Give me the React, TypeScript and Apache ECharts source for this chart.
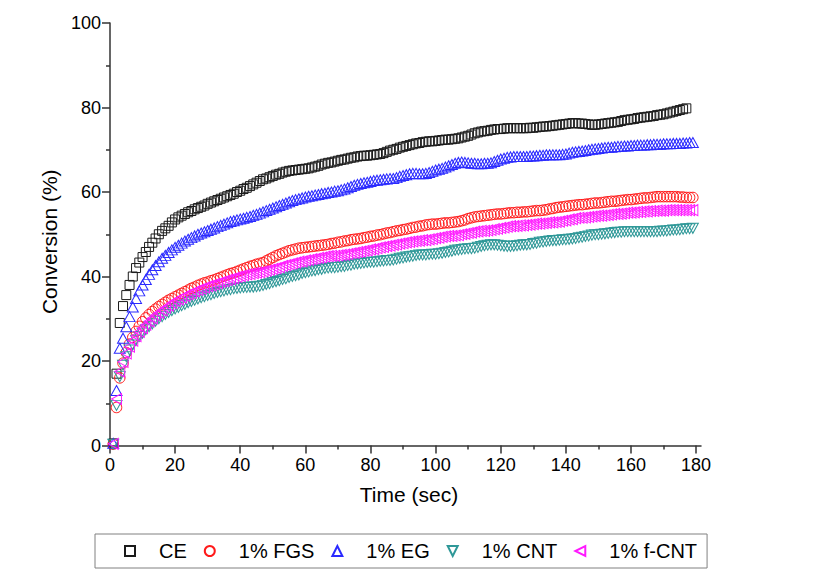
import React, { useEffect, useRef } from "react";
import * as echarts from "echarts";

// Time step: 1 s, first sample at t = 1 s
const START_TIME = 1;

const seriesNames = ["CE", "1% FGS", "1% EG", "1% CNT", "1% f-CNT"];

const ceValues = [
  0.5, 17.0, 29.0, 33.0, 35.6, 38.0, 40.0, 42.0, 43.3, 44.6,
  45.8, 47.0, 48.0, 49.0, 50.0, 50.8, 51.4, 52.0, 52.8, 53.5,
  54.0, 54.4, 54.8, 55.2, 55.5, 55.9, 56.2, 56.5, 56.8, 57.2,
  57.5, 57.8, 58.1, 58.4, 58.7, 59.0, 59.3, 59.6, 60.0, 60.3,
  60.7, 61.0, 61.4, 61.8, 62.2, 62.6, 63.0, 63.2, 63.5, 63.8,
  64.1, 64.3, 64.6, 64.8, 65.0, 65.1, 65.2, 65.3, 65.4, 65.5,
  65.6, 65.8, 66.0, 66.2, 66.5, 66.7, 66.9, 67.0, 67.2, 67.4,
  67.6, 67.7, 67.9, 68.1, 68.2, 68.4, 68.5, 68.6, 68.6, 68.7,
  68.8, 68.9, 69.0, 69.2, 69.5, 69.8, 70.0, 70.2, 70.5, 70.7,
  70.9, 71.1, 71.3, 71.5, 71.6, 71.8, 71.9, 72.0, 72.0, 72.1,
  72.2, 72.3, 72.4, 72.4, 72.5, 72.6, 72.7, 72.9, 73.1, 73.3,
  73.6, 73.9, 74.1, 74.3, 74.4, 74.5, 74.7, 74.8, 74.9, 74.9,
  75.0, 75.1, 75.1, 75.1, 75.1, 75.1, 75.1, 75.1, 75.2, 75.2,
  75.3, 75.4, 75.5, 75.5, 75.6, 75.7, 75.8, 75.9, 76.0, 76.1,
  76.2, 76.3, 76.3, 76.2, 76.2, 76.1, 76.0, 75.9, 75.9, 76.0,
  76.1, 76.2, 76.3, 76.4, 76.5, 76.6, 76.8, 77.0, 77.1, 77.2,
  77.3, 77.5, 77.6, 77.7, 77.8, 77.9, 78.0, 78.2, 78.3, 78.4,
  78.6, 78.8, 79.0, 79.2, 79.4, 79.6, 79.8,
];

const fgsValues = [
  0.3, 9.0, 16.0, 19.5, 22.0, 24.0, 25.6, 27.0, 28.2, 29.3,
  30.2, 31.0, 31.7, 32.3, 32.9, 33.4, 33.9, 34.4, 34.8, 35.2,
  35.6, 36.0, 36.4, 36.8, 37.2, 37.5, 37.9, 38.2, 38.5, 38.7,
  39.0, 39.2, 39.5, 39.8, 40.1, 40.4, 40.7, 40.9, 41.2, 41.5,
  41.8, 42.1, 42.4, 42.6, 42.9, 43.1, 43.3, 43.7, 44.1, 44.5,
  44.9, 45.2, 45.5, 45.8, 46.1, 46.3, 46.5, 46.7, 46.8, 46.9,
  47.0, 47.1, 47.2, 47.3, 47.4, 47.5, 47.6, 47.8, 47.9, 48.1,
  48.2, 48.4, 48.5, 48.7, 48.8, 48.9, 49.0, 49.2, 49.3, 49.5,
  49.6, 49.8, 49.9, 50.1, 50.3, 50.4, 50.6, 50.8, 50.9, 51.1,
  51.2, 51.4, 51.6, 51.7, 51.9, 52.0, 52.2, 52.3, 52.4, 52.4,
  52.5, 52.6, 52.7, 52.7, 52.8, 52.9, 53.0, 53.2, 53.4, 53.7,
  53.9, 54.1, 54.2, 54.3, 54.4, 54.5, 54.6, 54.7, 54.8, 54.8,
  54.9, 55.0, 55.1, 55.1, 55.2, 55.2, 55.3, 55.3, 55.4, 55.5,
  55.6, 55.6, 55.7, 55.8, 56.0, 56.1, 56.3, 56.4, 56.5, 56.6,
  56.7, 56.8, 56.9, 57.0, 57.0, 57.1, 57.2, 57.3, 57.4, 57.4,
  57.5, 57.6, 57.7, 57.8, 57.8, 57.9, 58.0, 58.1, 58.2, 58.2,
  58.3, 58.4, 58.5, 58.6, 58.6, 58.7, 58.8, 58.9, 58.9, 58.9,
  58.9, 58.9, 58.9, 58.9, 58.8, 58.8, 58.7, 58.7, 58.7,
];

const egValues = [
  0.5, 13.0, 23.0, 25.4, 28.1, 30.5, 32.8, 34.8, 36.6, 38.0,
  39.3, 40.5, 41.6, 42.6, 43.5, 44.3, 45.0, 45.7, 46.3, 46.9,
  47.4, 47.9, 48.4, 48.8, 49.2, 49.6, 50.0, 50.3, 50.6, 50.9,
  51.2, 51.5, 51.8, 52.1, 52.4, 52.7, 53.0, 53.2, 53.4, 53.6,
  53.8, 54.0, 54.2, 54.5, 54.7, 55.0, 55.3, 55.6, 55.9, 56.2,
  56.5, 56.8, 57.1, 57.4, 57.7, 58.0, 58.2, 58.4, 58.6, 58.8,
  59.0, 59.1, 59.3, 59.4, 59.6, 59.7, 59.9, 60.0, 60.2, 60.3,
  60.5, 60.7, 61.0, 61.3, 61.6, 61.8, 62.0, 62.2, 62.3, 62.5,
  62.7, 62.8, 62.9, 63.0, 63.1, 63.2, 63.2, 63.4, 63.7, 63.9,
  64.1, 64.3, 64.4, 64.4, 64.3, 64.3, 64.4, 64.6, 64.9, 65.2,
  65.4, 65.6, 65.9, 66.2, 66.5, 66.8, 67.0, 67.1, 67.0, 66.9,
  66.8, 66.8, 66.7, 66.7, 66.8, 66.8, 66.9, 67.2, 67.5, 67.8,
  68.0, 68.2, 68.3, 68.4, 68.4, 68.4, 68.4, 68.4, 68.5, 68.5,
  68.6, 68.7, 68.7, 68.8, 68.8, 68.8, 68.8, 68.8, 68.9, 69.0,
  69.2, 69.4, 69.5, 69.6, 69.7, 69.8, 70.0, 70.1, 70.2, 70.3,
  70.4, 70.5, 70.6, 70.6, 70.7, 70.8, 70.8, 70.9, 70.9, 71.0,
  71.0, 71.1, 71.1, 71.1, 71.2, 71.2, 71.3, 71.3, 71.3, 71.4,
  71.4, 71.4, 71.5, 71.5, 71.5, 71.6, 71.6, 71.7, 71.7,
];

const cntValues = [
  0.3, 9.5, 16.3, 19.0, 21.0, 22.6, 23.8, 24.9, 25.8, 26.6,
  27.4, 28.1, 28.8, 29.4, 30.0, 30.5, 31.0, 31.5, 31.9, 32.3,
  32.7, 33.1, 33.4, 33.8, 34.1, 34.4, 34.7, 35.0, 35.2, 35.5,
  35.7, 36.0, 36.2, 36.4, 36.6, 36.8, 36.9, 37.1, 37.2, 37.3,
  37.4, 37.4, 37.5, 37.5, 37.6, 37.7, 37.9, 38.1, 38.3, 38.6,
  38.8, 39.0, 39.3, 39.5, 39.8, 40.0, 40.2, 40.4, 40.7, 40.9,
  41.1, 41.3, 41.4, 41.6, 41.7, 41.9, 42.0, 42.1, 42.1, 42.2,
  42.3, 42.4, 42.6, 42.7, 42.9, 43.0, 43.1, 43.2, 43.3, 43.4,
  43.4, 43.5, 43.6, 43.7, 43.8, 43.8, 43.9, 44.1, 44.3, 44.4,
  44.6, 44.7, 44.8, 45.0, 45.1, 45.1, 45.1, 45.2, 45.3, 45.3,
  45.4, 45.5, 45.7, 45.8, 46.0, 46.2, 46.3, 46.4, 46.5, 46.6,
  46.6, 46.7, 46.9, 47.1, 47.3, 47.4, 47.5, 47.5, 47.4, 47.3,
  47.2, 47.1, 47.1, 47.2, 47.3, 47.4, 47.5, 47.5, 47.6, 47.8,
  47.9, 48.1, 48.2, 48.3, 48.4, 48.5, 48.5, 48.6, 48.7, 48.7,
  48.8, 48.9, 49.0, 49.2, 49.3, 49.5, 49.6, 49.8, 49.9, 49.9,
  50.0, 50.1, 50.2, 50.3, 50.4, 50.5, 50.5, 50.6, 50.6, 50.6,
  50.6, 50.6, 50.6, 50.6, 50.6, 50.6, 50.6, 50.6, 50.7, 50.8,
  50.8, 50.9, 51.0, 51.0, 51.1, 51.2, 51.3, 51.3, 51.4,
];

const fcntValues = [
  0.4, 11.0, 17.5, 19.8, 21.8, 23.4, 24.8, 25.9, 26.9, 27.8,
  28.6, 29.4, 30.1, 30.8, 31.4, 32.0, 32.6, 33.1, 33.7, 34.2,
  34.6, 35.0, 35.4, 35.8, 36.1, 36.5, 36.8, 37.1, 37.4, 37.7,
  37.9, 38.2, 38.4, 38.7, 38.9, 39.2, 39.4, 39.6, 39.9, 40.1,
  40.3, 40.5, 40.6, 40.8, 40.9, 41.0, 41.2, 41.4, 41.6, 41.8,
  42.0, 42.2, 42.5, 42.7, 42.9, 43.1, 43.3, 43.5, 43.6, 43.8,
  43.9, 44.1, 44.2, 44.4, 44.5, 44.7, 44.8, 44.9, 44.9, 45.0,
  45.1, 45.2, 45.3, 45.5, 45.6, 45.8, 45.9, 46.1, 46.2, 46.4,
  46.5, 46.7, 46.9, 47.0, 47.2, 47.3, 47.5, 47.6, 47.8, 47.9,
  48.1, 48.2, 48.3, 48.4, 48.5, 48.6, 48.6, 48.8, 48.9, 49.1,
  49.2, 49.4, 49.5, 49.6, 49.6, 49.7, 49.8, 50.0, 50.1, 50.3,
  50.4, 50.6, 50.7, 50.8, 50.8, 50.9, 51.0, 51.2, 51.3, 51.5,
  51.6, 51.8, 51.9, 51.9, 52.0, 52.1, 52.1, 52.2, 52.3, 52.4,
  52.5, 52.5, 52.6, 52.7, 52.8, 52.8, 52.9, 53.0, 53.2, 53.3,
  53.5, 53.6, 53.8, 53.9, 53.9, 54.0, 54.1, 54.2, 54.3, 54.4,
  54.4, 54.5, 54.6, 54.7, 54.8, 54.8, 54.9, 55.0, 55.1, 55.1,
  55.2, 55.3, 55.3, 55.4, 55.4, 55.5, 55.5, 55.6, 55.6, 55.6,
  55.7, 55.7, 55.7, 55.7, 55.7, 55.7, 55.7, 55.7, 55.7,
];

const xMajorTicks = [0, 20, 40, 60, 80, 100, 120, 140, 160, 180];
const xMinorTicks = [10, 30, 50, 70, 90, 110, 130, 150, 170];

const FONT = "'Liberation Sans', Arial, Helvetica, sans-serif";

const toPairs = (vals: number[]) => vals.map((v, i) => [START_TIME + i, v]);

const styles = [
  { symbol: "rect", size: 9, color: "#1a1a1a" },
  { symbol: "circle", size: 10.5, color: "#ff1a1a" },
  { symbol: "path://M5,0L10,10L0,10Z", size: [11, 10], color: "#2a2aff" },
  { symbol: "path://M0,0L10,0L5,10Z", size: [11, 10], color: "#2f9898" },
  { symbol: "path://M10,0L10,10L0,5Z", size: [10, 11], color: "#ff1aff" },
];

export default function App() {
  const ref = useRef<HTMLDivElement>(null);
  useEffect(() => {
    if (!ref.current) return;
    const chart = echarts.init(ref.current, undefined, { renderer: "svg" });
    const allValues = [ceValues, fgsValues, egValues, cntValues, fcntValues];
    const axisLineStyle = { color: "#333", width: 1.5 };
    const option: any = {
      animation: false,
      backgroundColor: "#fff",
      grid: { left: 110, right: 119, top: 23, bottom: 136.5, containLabel: false },
      xAxis: [
        {
          type: "value",
          min: 0,
          max: 181.5,
          name: "Time (sec)",
          nameLocation: "middle",
          nameGap: 38,
          nameTextStyle: { fontFamily: FONT, fontSize: 21, color: "#000", padding: [0, 0, 0, 7] },
          axisLine: { show: true, lineStyle: axisLineStyle },
          axisTick: { show: true, length: 8, inside: false, customValues: xMajorTicks, lineStyle: axisLineStyle },
          axisLabel: { customValues: xMajorTicks, fontFamily: FONT, fontSize: 18, color: "#000", margin: 10 },
          splitLine: { show: false },
        },
        {
          type: "value",
          min: 0,
          max: 181.5,
          position: "bottom",
          axisLine: { show: false },
          axisTick: { show: true, length: 4, customValues: xMinorTicks, lineStyle: axisLineStyle },
          axisLabel: { show: false },
          splitLine: { show: false },
        },
      ],
      yAxis: {
        type: "value",
        min: 0,
        max: 100,
        interval: 20,
        name: "Conversion (%)",
        nameLocation: "middle",
        nameGap: 50,
        nameTextStyle: { fontFamily: FONT, fontSize: 21, color: "#000", padding: [0, 15, 0, 0] },
        axisLine: { show: true, lineStyle: axisLineStyle },
        axisTick: { show: true, length: 8, lineStyle: axisLineStyle },
        minorTick: { show: true, splitNumber: 2, length: 4, lineStyle: axisLineStyle },
        axisLabel: { fontFamily: FONT, fontSize: 18, color: "#000", margin: 9 },
        splitLine: { show: false },
        minorSplitLine: { show: false },
      },
      legend: {
        left: 95,
        top: 534,
        orient: "horizontal",
        padding: [7, 10, 7, 29],
        itemGap: 17,
        itemWidth: 10,
        itemHeight: 10,
        borderColor: "#808080",
        borderWidth: 1,
        data: seriesNames,
        formatter: (name: string) => `{t|${name}}`,
        textStyle: {
          fontFamily: FONT,
          fontSize: 20,
          color: "#000",
          rich: { t: { fontFamily: FONT, fontSize: 20, color: "#000", padding: [0, 0, 0, 19] } },
        },
      },
      series: seriesNames.map((name, i) => ({
        name,
        type: "scatter",
        data: toPairs(allValues[i]),
        symbol: styles[i].symbol,
        symbolSize: styles[i].size,
        clip: false,
        itemStyle: {
          color: "rgba(0,0,0,0)",
          borderColor: styles[i].color,
          borderWidth: 1,
          opacity: 1,
        },
        emphasis: { disabled: true },
      })),
    };
    chart.setOption(option);
    return () => chart.dispose();
  }, []);
  return (
    <div
      ref={ref}
      style={{ position: "fixed", left: 0, top: 0, width: 820, height: 582, background: "#fff" }}
    />
  );
}
